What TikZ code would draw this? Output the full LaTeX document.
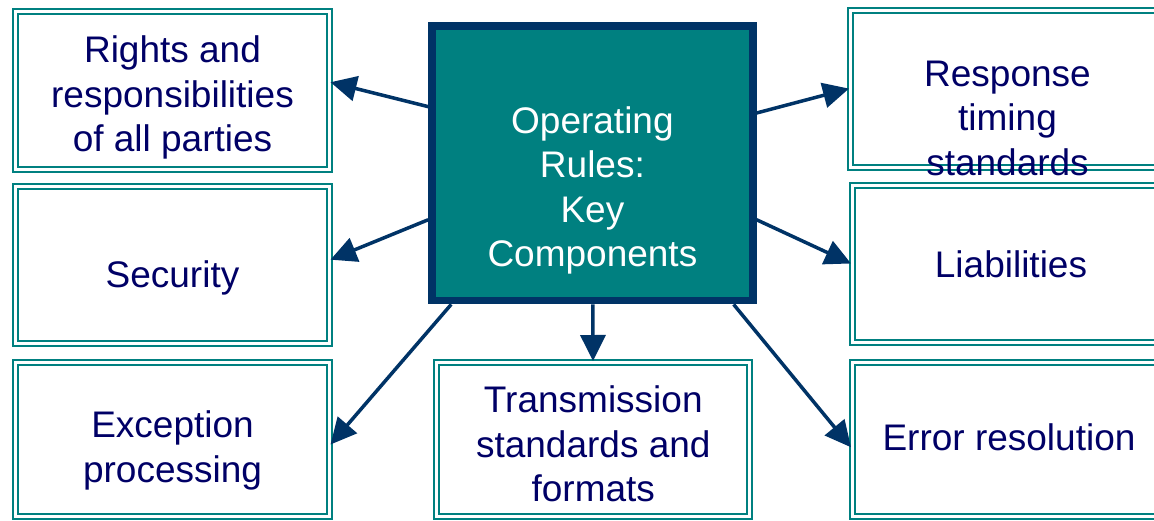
\documentclass[tikz,border=0pt]{standalone}
\usepackage{fontspec}
\setmainfont{Liberation Sans}
\usetikzlibrary{arrows.meta}
\definecolor{boxteal}{RGB}{0,128,128}
\definecolor{rulenavy}{RGB}{0,51,102}
\definecolor{labelnavy}{RGB}{0,0,102}

\begin{document}
\begin{tikzpicture}[x=1pt,y=-1pt,
    compbox/.style={draw=boxteal,line width=2pt,double=white,double distance=3pt,
      minimum width=314pt,minimum height=157pt,inner sep=0pt},
    comptext/.style={text=labelnavy,align=center,inner sep=0pt,
      font=\fontsize{37}{44.5}\selectfont},
    link/.style={draw=rulenavy,line width=3.5pt,-{Triangle[width=25pt,length=26pt]}}]
  \useasboundingbox (0,0) rectangle (1154,520);
  \clip (0,0) rectangle (1154,520);
  % centre box
  \node[draw=rulenavy,fill=boxteal,line width=7.7pt,minimum width=320.8pt,
    minimum height=274.7pt,inner sep=0pt] (core) at (592.4,163.2) {};
  \node[comptext,text=white] (coretext) at (592.4,190.5) {Operating\\Rules:\\Key\\Components};
  % left column
  \node[compbox,minimum height=158pt] (rights) at (172.5,90.5) {};
  \node[compbox] (security) at (172.5,265.2) {};
  \node[compbox,minimum height=154pt] (exception) at (172.5,439) {};
  % bottom
  \node[compbox,minimum width=313pt,minimum height=154pt] (transmission) at (593.3,439) {};
  % right column
  \node[compbox] (response) at (1007,88.6) {};
  \node[compbox] (liabilities) at (1009,263.5) {};
  \node[compbox,minimum height=154pt] (errors) at (1009,439) {};
  % labels
  \node[comptext] (rightstext) at (172.5,97.5) {Rights and\\responsibilities\\of all parties};
  \node[comptext] (securitytext) at (172.5,278) {Security};
  \node[comptext] (exceptiontext) at (172.5,450.5) {Exception\\processing};
  \node[comptext] (transmissiontext) at (593.3,444) {Transmission\\standards and\\formats};
  \node[comptext] (responsetext) at (1007.5,118) {Response\\timing\\standards};
  \node[comptext] (liabilitiestext) at (1011,264.5) {Liabilities};
  \node[comptext] (errorstext) at (1009,437.5) {Error resolution};
  % arrows
  \draw[link] (core.161) -- (rights.3);
  \draw[link] (core.199) -- (security.2);
  \draw[link] (core.225) -- (exception.-2);
  \draw[link] (core) -- (transmission);
  \draw[link] (core.-45) -- (errors.183);
  \draw[link] (core.-19) -- (liabilities.west);
  \draw[link] (core.17) -- (response.west);
\end{tikzpicture}
\end{document}
